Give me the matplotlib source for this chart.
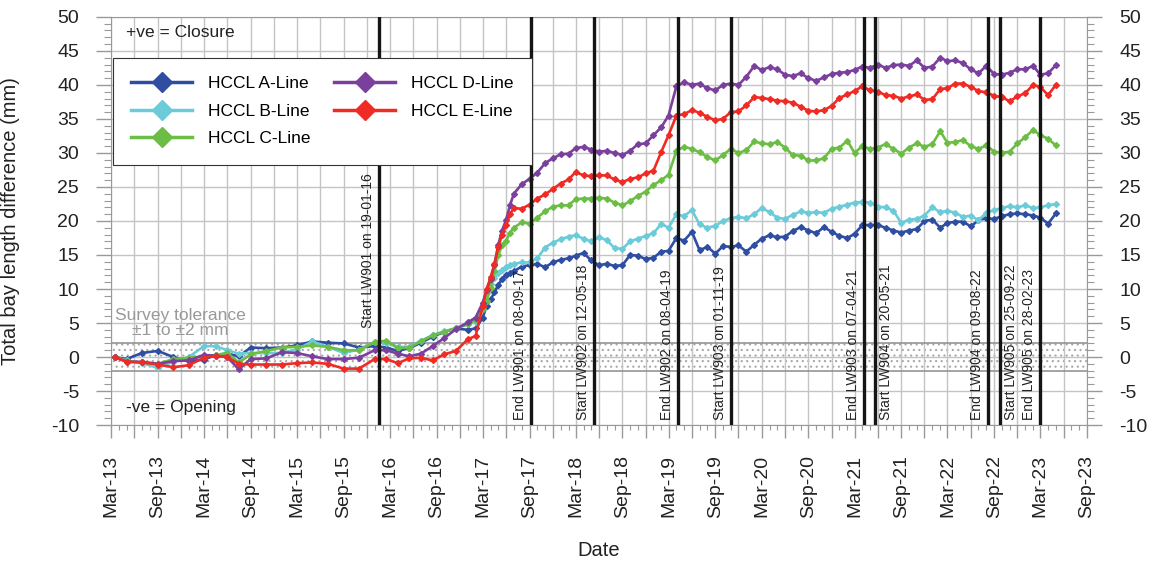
#!/usr/bin/python

############################### Importing libraries ################################
import pandas as pd
import matplotlib
matplotlib.use("Agg")
import matplotlib.pyplot as plt
import matplotlib.dates as mdates
from matplotlib.lines import Line2D
from matplotlib.ticker import MultipleLocator, FuncFormatter

############################### Survey data ################################
# survey dates shared by all five lines
survey_dates = [
    "2013-03-16", "2013-05-01", "2013-07-01", "2013-09-01", "2013-11-01", "2014-01-01",
    "2014-03-01", "2014-04-16", "2014-06-01", "2014-07-16", "2014-09-01", "2014-11-01",
    "2015-01-01", "2015-03-01", "2015-05-01", "2015-07-01", "2015-09-01", "2015-11-01",
    "2016-01-01", "2016-02-15", "2016-04-01", "2016-05-16", "2016-07-01", "2016-08-16",
    "2016-10-01", "2016-11-16", "2017-01-01", "2017-02-01", "2017-03-01", "2017-03-16",
    "2017-04-01", "2017-04-16", "2017-05-01", "2017-05-16", "2017-06-01", "2017-06-16",
    "2017-07-01", "2017-08-01", "2017-09-01", "2017-10-01",
    "2017-11-01", "2017-12-01",
    "2018-01-01", "2018-02-01", "2018-03-01", "2018-04-01", "2018-05-01", "2018-06-01",
    "2018-07-01", "2018-08-01", "2018-09-01", "2018-10-01", "2018-11-01", "2018-12-01",
    "2019-01-01", "2019-02-01", "2019-03-01", "2019-04-01", "2019-05-01", "2019-06-01",
    "2019-07-01", "2019-08-01", "2019-09-01", "2019-10-01", "2019-11-01", "2019-12-01",
    "2020-01-01", "2020-02-01", "2020-03-01", "2020-04-01", "2020-05-01", "2020-06-01",
    "2020-07-01", "2020-08-01", "2020-09-01", "2020-10-01", "2020-11-01", "2020-12-01",
    "2021-01-01", "2021-02-01", "2021-03-01", "2021-04-01", "2021-05-01", "2021-06-01",
    "2021-07-01", "2021-08-01", "2021-09-01", "2021-10-01", "2021-11-01", "2021-12-01",
    "2022-01-01", "2022-02-01", "2022-03-01", "2022-04-01", "2022-05-01", "2022-06-01",
    "2022-07-01", "2022-08-01", "2022-09-01", "2022-10-01", "2022-11-01", "2022-12-01",
    "2023-01-01", "2023-02-01", "2023-03-01", "2023-04-01", "2023-05-01",
]

# total bay length difference (mm) per line
a_line = [
    0.0, -0.3, 0.6, 0.9, 0.0, -0.6, -0.4, 0.3, 0.5, 0.1, 1.4, 1.3, 1.4, 1.7, 2.3, 2.1, 2.0, 1.4, 1.6,
    1.4, 0.9, 1.3, 2.1, 3.0, 3.7, 4.2, 4.0, 4.2,
    5.8, 7.5, 8.5, 9.5, 10.6, 11.5, 12.0, 12.4, 12.6, 13.3, 13.5, 13.7,
    13.2, 13.9, 14.3, 14.5, 14.9, 15.3, 14.2, 13.5, 13.7, 13.4,
    13.5, 15.0, 14.9, 14.4, 14.6, 15.5, 15.6, 17.5, 17.1, 18.4,
    15.7, 16.2, 15.2, 16.3, 16.2, 16.4, 15.5, 16.5, 17.4, 17.9,
    17.6, 17.7, 18.5, 19.1, 18.6, 18.2, 19.1, 18.4, 17.8, 17.5,
    18.1, 19.4, 19.4, 19.4, 19.0, 18.6, 18.3, 18.6, 18.8, 20.0,
    20.2, 19.0, 19.7, 19.9, 19.9, 19.2, 20.1, 20.4, 20.3, 20.7,
    21.0, 21.1, 21.0, 20.8, 20.5, 19.6, 21.1,
]
b_line = [
    0.0, -0.5, -0.9, -1.6, -0.7, 0.0, 1.6, 1.6, 1.0, 0.5, 0.6, 0.6, 0.6, 1.1, 2.3, 1.5, 0.6, 1.1, 2.2,
    2.1, 1.5, 1.5, 2.4, 3.2, 3.8, 4.2, 4.8, 5.2,
    7.5, 9.4, 10.7, 11.6, 12.3, 12.8, 13.2, 13.5, 13.7, 13.9, 13.9, 14.5,
    16.1, 16.8, 17.3, 17.7, 17.9, 17.4, 17.0, 17.6, 17.2, 16.0,
    15.9, 17.0, 17.4, 17.8, 18.2, 19.6, 19.0, 21.0, 20.7, 21.6,
    19.5, 19.0, 19.3, 20.0, 20.4, 20.6, 20.4, 21.0, 21.9, 21.3,
    20.5, 20.3, 20.9, 21.4, 21.2, 21.3, 21.2, 21.8, 22.1, 22.4,
    22.7, 22.8, 22.7, 22.1, 22.0, 21.5, 19.7, 20.2, 20.3, 20.8,
    22.0, 21.3, 21.5, 21.2, 20.6, 20.8, 20.1, 21.2, 21.6, 21.9,
    22.2, 22.0, 22.3, 21.9, 22.0, 22.3, 22.5,
]
c_line = [
    0.0, -0.6, -0.8, -1.0, -0.3, -0.1, 0.1, 0.3, 0.6, -0.8, 0.4, 0.9, 1.4, 1.5, 1.7, 1.5, 1.0, 1.0, 2.2,
    2.4, 1.3, 1.4, 2.3, 3.2, 3.7, 4.3, 4.8, 5.5,
    7.0, 8.3, 10.2, 12.6, 15.0, 16.4, 17.1, 18.3, 19.0, 19.8, 19.6, 20.5,
    21.4, 22.1, 22.3, 22.3, 23.2, 23.3, 23.3, 23.4, 23.3, 22.7,
    22.3, 22.9, 23.7, 24.3, 25.3, 26.0, 26.8, 30.3, 30.9, 30.6,
    30.1, 29.4, 28.9, 29.7, 30.6, 30.0, 30.4, 31.7, 31.4, 31.3,
    31.6, 30.8, 29.7, 29.6, 28.9, 28.9, 29.2, 30.6, 30.8, 31.8,
    30.0, 31.0, 30.6, 30.8, 31.3, 30.6, 29.9, 30.8, 31.4, 30.9,
    31.3, 33.2, 31.5, 31.6, 31.9, 31.0, 30.6, 31.1, 30.2, 30.0,
    30.2, 31.4, 32.3, 33.4, 32.6, 32.1, 31.1,
]
d_line = [
    0.0, -0.7, -0.7, -1.0, -0.6, -0.5, 0.3, 0.2, 0.0, -1.8, -0.3, -0.2, 0.7, 0.6, 0.1, -0.3, -0.3, -0.1, 1.0,
    1.0, 0.5, 0.1, 0.5, 1.6, 2.8, 4.1, 5.1, 5.8,
    8.0, 9.8, 11.5, 13.6, 16.5, 18.6, 20.2, 22.3, 24.0, 25.4, 26.2, 27.1,
    28.5, 29.2, 29.8, 29.9, 30.7, 30.9, 30.5, 30.2, 30.3, 30.0,
    29.7, 30.3, 31.3, 31.4, 32.6, 33.8, 35.5, 39.8, 40.4, 40.0,
    40.2, 39.5, 39.2, 40.0, 40.2, 40.0, 41.2, 42.8, 42.2, 42.6,
    42.3, 41.5, 41.3, 41.7, 41.0, 40.6, 41.1, 41.6, 41.8, 41.9,
    42.2, 42.7, 42.5, 43.0, 42.5, 42.9, 43.0, 42.8, 43.6, 42.5,
    42.7, 44.0, 43.5, 43.6, 43.2, 42.3, 41.7, 42.8, 41.6, 41.5,
    41.8, 42.3, 42.3, 42.8, 41.5, 41.7, 42.9,
]
e_line = [
    0.0, -0.7, -0.8, -1.1, -1.5, -1.2, -0.1, 0.15, 0.0, -1.0, -1.1, -1.1, -1.1, -0.9, -0.8, -1.0, -1.7, -1.7, -0.3,
    -0.3, -0.9, -0.2, -0.1, -0.5, 0.4, 0.9, 2.6, 3.1,
    7.5, 10.0, 11.7, 13.7, 16.2, 18.0, 19.4, 21.0, 21.9, 21.8, 22.4, 23.3,
    23.9, 24.7, 25.5, 26.1, 27.2, 26.7, 26.6, 26.7, 26.7, 26.1,
    25.7, 26.2, 26.4, 27.0, 27.4, 30.2, 32.6, 35.5, 35.7, 36.3,
    35.9, 35.3, 34.8, 35.0, 36.0, 36.1, 37.0, 38.2, 38.1, 37.9,
    37.7, 37.6, 37.4, 36.8, 36.2, 36.1, 36.3, 36.9, 38.1, 38.6,
    39.1, 39.8, 39.2, 39.0, 38.5, 38.4, 38.0, 38.3, 38.6, 37.8,
    37.9, 39.4, 39.5, 40.2, 40.2, 39.7, 39.1, 38.9, 38.4, 38.2,
    37.6, 38.3, 38.8, 40.0, 39.7, 38.5, 40.0,
]

series_names = ["HCCL A-Line", "HCCL B-Line", "HCCL C-Line", "HCCL D-Line", "HCCL E-Line"]
series_colours = ["#2f4ea2", "#6bcbd8", "#6cbd45", "#7b3f9d", "#ee2b24"]

# longwall mining events
event_dates = ["2016-01-19", "2017-09-08", "2018-05-12", "2019-04-08", "2019-11-01",
               "2021-04-07", "2021-05-20", "2022-08-09", "2022-09-25", "2023-02-28"]
event_labels = ["Start LW901 on 19-01-16", "End LW901 on 08-09-17", "Start LW902 on 12-05-18",
                "End LW902 on 08-04-19", "Start LW903 on 01-11-19", "End LW903 on 07-04-21",
                "Start LW904 on 20-05-21", "End LW904 on 09-08-22", "Start LW905 on 25-09-22",
                "End LW905 on 28-02-23"]
event_label_base = [4.3, -9.3, -9.3, -9.3, -9.3, -9.3, -9.3, -9.3, -9.3, -9.3]
event_label_side = ["left", "left", "left", "left", "left",
                    "left", "right", "left", "right", "left"]

tolerance = 2.0

############################### Plotting ################################
def month_label(value, pos):
    d = mdates.num2date(value)
    return d.strftime("%b-%y") if d.month in (3, 9) else ""


def main():
    plt.rcParams["font.family"] = ["Liberation Sans", "DejaVu Sans"]
    plt.rcParams["axes.unicode_minus"] = False
    plt.rcParams["hatch.color"] = "#a8a8a8"
    plt.rcParams["hatch.linewidth"] = 0.8

    dates = pd.to_datetime(survey_dates)
    values = [a_line, b_line, c_line, d_line, e_line]
    x0, x1 = pd.Timestamp("2013-03-01"), pd.Timestamp("2023-09-01")

    fig = plt.figure(figsize=(11.54, 5.63), dpi=100)
    ax = fig.add_axes([0.0962, 0.245, 0.8458, 0.725])
    ax.set_xlim(x0, x1)
    ax.set_ylim(-10, 50)
    ax.set_axisbelow(True)

    # survey tolerance band
    ax.fill_between([x0, x1], -tolerance, tolerance, facecolor="white",
                    edgecolor="#a8a8a8", hatch="...", linewidth=0, zorder=0.3)
    for lim in (-tolerance, tolerance):
        ax.axhline(lim, color="#8c8c8c", lw=1.1, zorder=0.6)

    for vals, name, col in zip(values, series_names, series_colours):
        ax.plot(dates, vals, color=col, lw=1.9, marker="D", ms=3, zorder=3, label=name)

    for d, lab, yb, side in zip(event_dates, event_labels, event_label_base, event_label_side):
        d = pd.Timestamp(d)
        ax.axvline(d, color="#151515", lw=2.4, zorder=4)
        dx = -3 if side == "left" else 3
        ha = "right" if side == "left" else "left"
        ax.annotate(lab, xy=(d, yb), xytext=(dx, 0), textcoords="offset points",
                    rotation=90, ha=ha, va="bottom", fontsize=10, color="#222222")

    # axes, ticks and grid
    ax.xaxis.set_major_locator(mdates.MonthLocator(bymonth=[3, 6, 9, 12]))
    ax.xaxis.set_major_formatter(FuncFormatter(month_label))
    ax.xaxis.set_minor_locator(mdates.MonthLocator())
    ax.yaxis.set_major_locator(MultipleLocator(5))
    ax.yaxis.set_minor_locator(MultipleLocator(1))
    ax.grid(True, which="major", color="#c4c4c4", lw=1.0)

    ax.tick_params(axis="x", which="major", length=9.5, width=1, color="#999999",
                   pad=12, labelsize=14, labelrotation=90, labelcolor="#222222")
    ax.tick_params(axis="x", which="minor", length=3.5, width=0.8, color="#999999")
    ax.tick_params(axis="y", which="major", length=11, width=1, color="#999999", pad=12,
                   labelsize=14, labelcolor="#222222", left=True, right=True,
                   labelleft=True, labelright=True)
    ax.tick_params(axis="y", which="minor", length=5, width=0.8, color="#999999",
                   left=True, right=True)
    for sp in ax.spines.values():
        sp.set_color("#999999")

    ax.set_ylabel("Total bay length difference (mm)", fontsize=14.5, color="#222222")
    ax.yaxis.set_label_coords(-0.093, 0.5)
    ax.set_xlabel("Date", fontsize=14.5, color="#222222")
    ax.xaxis.set_label_coords(0.5, -0.284)

    # annotations
    ax.text(0.0154, 0.961, "+ve = Closure", transform=ax.transAxes, fontsize=12.5,
            va="center", color="#222222")
    ax.text(0.0154, 0.042, "-ve = Opening", transform=ax.transAxes, fontsize=12.5,
            va="center", color="#222222")
    ax.text(0.071, 0.25, "Survey tolerance\n\u00b11 to \u00b12 mm", transform=ax.transAxes,
            fontsize=12.5, ha="center", va="center", multialignment="center",
            linespacing=1.0, color="#999999")

    # legend with large diamond markers
    handles = [Line2D([], [], color=c, lw=2.5, marker="D", ms=10) for c in series_colours]
    leg = ax.legend(handles, series_names, loc="upper left", bbox_to_anchor=(0.002, 0.9),
                    borderaxespad=0, ncol=2, fontsize=12.5, handlelength=3.5,
                    handletextpad=0.9, columnspacing=1.4, labelspacing=0.72,
                    borderpad=1.05, fancybox=False, framealpha=1, edgecolor="#333333")
    leg.get_frame().set_linewidth(0.8)
    leg.set_zorder(6)

    fig.savefig("out.png", dpi=100)


if __name__ == "__main__":
    main()
